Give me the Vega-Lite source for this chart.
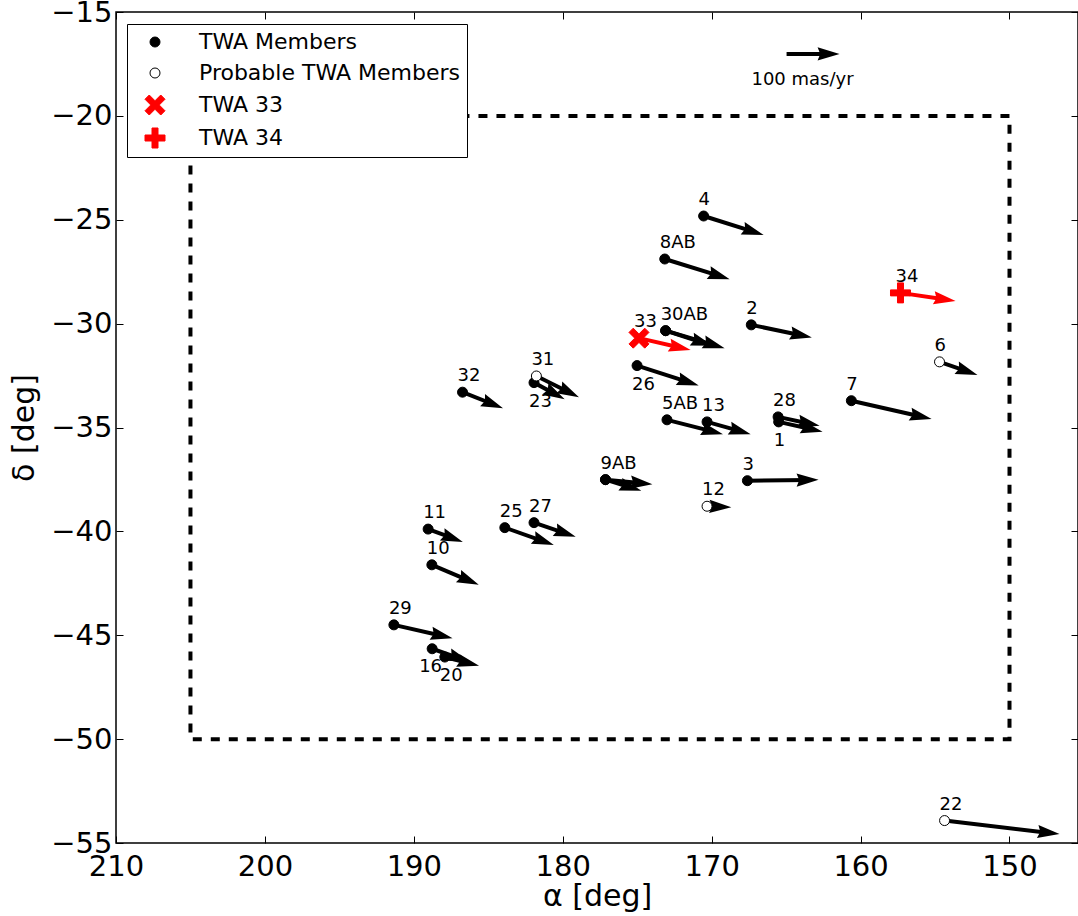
{
  "$schema": "https://vega.github.io/schema/vega-lite/v6.json",
  "width": 962,
  "height": 831,
  "autosize": {"type": "none"},
  "padding": {"left": 116, "top": 12, "right": 0, "bottom": 73},
  "background": "white",
  "config": {
    "view": {"stroke": "black", "strokeWidth": 1.5},
    "font": "DejaVu Sans"
  },
  "datasets": {
    "stars": [
      {"id": "4", "type": "TWA Members", "ra": 170.54, "dec": -24.82, "ra2": 166.51, "dec2": -25.73, "pos": "above"},
      {"id": "8AB", "type": "TWA Members", "ra": 173.15, "dec": -26.89, "ra2": 168.79, "dec2": -27.86, "pos": "above"},
      {"id": "30AB", "type": "TWA Members", "ra": 173.09, "dec": -30.34, "ra2": 169.13, "dec2": -31.18, "pos": "above"},
      {"id": "", "type": "TWA Members", "ra": 173.09, "dec": -30.34, "ra2": 169.93, "dec2": -31.07, "pos": "none"},
      {"id": "2", "type": "TWA Members", "ra": 167.34, "dec": -30.06, "ra2": 163.27, "dec2": -30.67, "pos": "above"},
      {"id": "33", "type": "TWA 33", "ra": 174.88, "dec": -30.70, "ra2": 171.41, "dec2": -31.27, "pos": "above"},
      {"id": "26", "type": "TWA Members", "ra": 175.01, "dec": -32.02, "ra2": 170.87, "dec2": -32.98, "pos": "below"},
      {"id": "7", "type": "TWA Members", "ra": 160.62, "dec": -33.71, "ra2": 155.23, "dec2": -34.59, "pos": "above"},
      {"id": "5AB", "type": "TWA Members", "ra": 173.0, "dec": -34.63, "ra2": 169.24, "dec2": -35.32, "pos": "above"},
      {"id": "13", "type": "TWA Members", "ra": 170.31, "dec": -34.73, "ra2": 167.38, "dec2": -35.32, "pos": "above"},
      {"id": "28", "type": "TWA Members", "ra": 165.54, "dec": -34.49, "ra2": 162.75, "dec2": -34.92, "pos": "above"},
      {"id": "1", "type": "TWA Members", "ra": 165.50, "dec": -34.73, "ra2": 162.55, "dec2": -35.20, "pos": "below"},
      {"id": "3", "type": "TWA Members", "ra": 167.60, "dec": -37.56, "ra2": 162.82, "dec2": -37.52, "pos": "above"},
      {"id": "9AB", "type": "TWA Members", "ra": 177.13, "dec": -37.51, "ra2": 173.98, "dec2": -37.73, "pos": "above"},
      {"id": "", "type": "TWA Members", "ra": 177.13, "dec": -37.51, "ra2": 174.72, "dec2": -38.04, "pos": "none"},
      {"id": "32", "type": "TWA Members", "ra": 186.73, "dec": -33.30, "ra2": 184.01, "dec2": -34.07, "pos": "above"},
      {"id": "23", "type": "TWA Members", "ra": 181.93, "dec": -32.84, "ra2": 179.87, "dec2": -33.64, "pos": "below"},
      {"id": "11", "type": "TWA Members", "ra": 189.04, "dec": -39.89, "ra2": 186.71, "dec2": -40.51, "pos": "above"},
      {"id": "25", "type": "TWA Members", "ra": 183.89, "dec": -39.82, "ra2": 180.60, "dec2": -40.65, "pos": "above"},
      {"id": "27", "type": "TWA Members", "ra": 181.93, "dec": -39.58, "ra2": 179.13, "dec2": -40.26, "pos": "above"},
      {"id": "10", "type": "TWA Members", "ra": 188.79, "dec": -41.61, "ra2": 185.64, "dec2": -42.57, "pos": "above"},
      {"id": "29", "type": "TWA Members", "ra": 191.34, "dec": -44.50, "ra2": 187.40, "dec2": -45.14, "pos": "above"},
      {"id": "16", "type": "TWA Members", "ra": 188.77, "dec": -45.65, "ra2": 186.24, "dec2": -46.28, "pos": "belowleft"},
      {"id": "20", "type": "TWA Members", "ra": 187.92, "dec": -46.05, "ra2": 185.62, "dec2": -46.47, "pos": "below"},
      {"id": "31", "type": "Probable TWA Members", "ra": 181.77, "dec": -32.52, "ra2": 178.91, "dec2": -33.54, "pos": "above"},
      {"id": "12", "type": "Probable TWA Members", "ra": 170.31, "dec": -38.79, "ra2": 168.68, "dec2": -38.84, "pos": "above"},
      {"id": "6", "type": "Probable TWA Members", "ra": 154.70, "dec": -31.84, "ra2": 152.15, "dec2": -32.47, "pos": "above"},
      {"id": "22", "type": "Probable TWA Members", "ra": 154.36, "dec": -53.92, "ra2": 146.64, "dec2": -54.57, "pos": "above"},
      {"id": "34", "type": "TWA 34", "ra": 157.32, "dec": -28.52, "ra2": 153.62, "dec2": -28.91, "pos": "above"},
      {"id": "", "type": "scale", "ra": 164.97, "dec": -17.02, "ra2": 161.41, "dec2": -17.02, "pos": "none"}
    ],
    "box": [{"ra": 205, "dec": -20, "ra2": 150, "dec2": -50}],
    "note": [{"ra": 163.9, "dec": -18.27, "text": "100 mas/yr"}]
  },
  "resolve": {"axis": {"x": "independent", "y": "independent"}},
  "layer": [
    {
      "data": {"name": "box"},
      "mark": {"type": "rect", "fillOpacity": 0, "stroke": "black", "strokeWidth": 4, "strokeDash": [9, 9]},
      "encoding": {
        "x": {
          "field": "ra", "type": "quantitative",
          "scale": {"domain": [145.4, 210], "reverse": true, "nice": false, "zero": false},
          "axis": {
            "orient": "bottom", "values": [210, 200, 190, 180, 170, 160, 150], "format": "d",
            "domain": false, "grid": false, "tickSize": -7, "tickColor": "black", "tickWidth": 1,
            "labelFont": "DejaVu Sans", "labelFontSize": 29, "labelColor": "black", "labelPadding": 16,
            "labelFlush": false, "labelOverlap": false,
            "title": "α [deg]", "titleFont": "DejaVu Sans", "titleFontSize": 30, "titleFontWeight": "normal",
            "titleColor": "black", "titlePadding": 0
          }
        },
        "x2": {"field": "ra2"},
        "y": {
          "field": "dec", "type": "quantitative",
          "scale": {"domain": [-55, -15], "nice": false, "zero": false},
          "axis": {
            "orient": "left", "values": [-55, -50, -45, -40, -35, -30, -25, -20, -15], "format": "d",
            "domain": false, "grid": false, "tickSize": -7, "tickColor": "black", "tickWidth": 1,
            "labelFont": "DejaVu Sans", "labelFontSize": 29, "labelColor": "black", "labelPadding": 11,
            "labelFlush": false, "labelOverlap": false,
            "title": "δ [deg]", "titleFont": "DejaVu Sans", "titleFontSize": 30, "titleFontWeight": "normal",
            "titleColor": "black", "titlePadding": 11
          }
        },
        "y2": {"field": "dec2"}
      }
    },
    {
      "data": {"name": "box"},
      "mark": {"type": "point", "opacity": 0},
      "encoding": {
        "x": {
          "field": "ra", "type": "quantitative",
          "axis": {
            "orient": "top", "values": [210, 200, 190, 180, 170, 160, 150], "labels": false, "title": null,
            "domain": false, "grid": false, "tickSize": -7, "tickColor": "black", "tickWidth": 1
          }
        },
        "y": {
          "field": "dec", "type": "quantitative",
          "axis": {
            "orient": "right", "values": [-55, -50, -45, -40, -35, -30, -25, -20, -15], "labels": false, "title": null,
            "domain": false, "grid": false, "tickSize": -7, "tickColor": "black", "tickWidth": 1
          }
        }
      }
    },
    {
      "data": {"name": "stars"},
      "transform": [
        {"calculate": "sqrt(pow((datum.ra - datum.ra2) * 14.892, 2) + pow((datum.dec - datum.dec2) * 20.775, 2))", "as": "len"},
        {"calculate": "datum.ra2 - (datum.ra2 - datum.ra) * 10 / datum.len", "as": "rae"},
        {"calculate": "datum.dec2 - (datum.dec2 - datum.dec) * 10 / datum.len", "as": "dece"}
      ],
      "mark": {"type": "rule", "strokeWidth": 4, "strokeCap": "butt"},
      "encoding": {
        "x": {"field": "ra", "type": "quantitative", "axis": null},
        "y": {"field": "dec", "type": "quantitative", "axis": null},
        "x2": {"field": "rae"},
        "y2": {"field": "dece"},
        "color": {"condition": {"test": "datum.type == 'TWA 33' || datum.type == 'TWA 34'", "value": "red"}, "value": "black"}
      }
    },
    {
      "data": {"name": "stars"},
      "transform": [
        {"calculate": "atan2((datum.dec - datum.dec2) * 20.775, (datum.ra - datum.ra2) * 14.892) * 180 / PI", "as": "ang"}
      ],
      "mark": {"type": "point", "filled": true, "size": 1936, "shape": "M0,0 L-1,-0.3 L-0.88,0 L-1,0.3 Z", "opacity": 1, "strokeWidth": 0},
      "encoding": {
        "x": {"field": "ra2", "type": "quantitative", "axis": null},
        "y": {"field": "dec2", "type": "quantitative", "axis": null},
        "angle": {"field": "ang", "type": "quantitative", "scale": null},
        "color": {"condition": {"test": "datum.type == 'TWA 33' || datum.type == 'TWA 34'", "value": "red"}, "value": "black"}
      }
    },
    {
      "data": {"name": "stars"},
      "transform": [{"filter": "datum.type != 'scale'"}],
      "mark": {"type": "point", "filled": true, "size": 100, "strokeWidth": 1, "opacity": 1},
      "encoding": {
        "x": {"field": "ra", "type": "quantitative", "axis": null},
        "y": {"field": "dec", "type": "quantitative", "axis": null},
        "shape": {
          "field": "type", "type": "nominal",
          "scale": {
            "domain": ["TWA Members", "Probable TWA Members", "TWA 33", "TWA 34"],
            "range": ["circle", "circle",
              "M-2,-1.15 L-1.15,-2 L0,-0.85 L1.15,-2 L2,-1.15 L0.85,0 L2,1.15 L1.15,2 L0,0.85 L-1.15,2 L-2,1.15 L-0.85,0 Z",
              "M-0.6,-2 L0.6,-2 L0.6,-0.6 L2,-0.6 L2,0.6 L0.6,0.6 L0.6,2 L-0.6,2 L-0.6,0.6 L-2,0.6 L-2,-0.6 L-0.6,-0.6 Z"]
          },
          "legend": {
            "title": null, "orient": "none", "legendX": 11, "legendY": 12,
            "strokeColor": "black", "fillColor": "white", "cornerRadius": 0, "padding": 7,
            "labelFont": "DejaVu Sans", "labelFontSize": 22, "labelColor": "black", "labelLimit": 400,
            "symbolSize": 100, "symbolStrokeWidth": 1, "symbolOffset": 10, "labelOffset": 33, "rowPadding": 9
          }
        },
        "fill": {
          "field": "type", "type": "nominal",
          "scale": {"domain": ["TWA Members", "Probable TWA Members", "TWA 33", "TWA 34"], "range": ["black", "white", "red", "red"]},
          "legend": {
            "title": null, "orient": "none", "legendX": 11, "legendY": 12,
            "strokeColor": "black", "fillColor": "white", "cornerRadius": 0, "padding": 7,
            "labelFont": "DejaVu Sans", "labelFontSize": 22, "labelColor": "black", "labelLimit": 400,
            "symbolSize": 100, "symbolStrokeWidth": 1, "symbolOffset": 10, "labelOffset": 33, "rowPadding": 9
          }
        },
        "stroke": {
          "field": "type", "type": "nominal",
          "scale": {"domain": ["TWA Members", "Probable TWA Members", "TWA 33", "TWA 34"], "range": ["black", "black", "red", "red"]},
          "legend": {
            "title": null, "orient": "none", "legendX": 11, "legendY": 12,
            "strokeColor": "black", "fillColor": "white", "cornerRadius": 0, "padding": 7,
            "labelFont": "DejaVu Sans", "labelFontSize": 22, "labelColor": "black", "labelLimit": 400,
            "symbolSize": 100, "symbolStrokeWidth": 1, "symbolOffset": 10, "labelOffset": 33, "rowPadding": 9
          }
        }
      }
    },
    {
      "data": {"name": "stars"},
      "transform": [{"filter": "datum.pos == 'above'"}],
      "mark": {"type": "text", "align": "left", "baseline": "middle", "dx": -5, "dy": -16, "fontSize": 18, "font": "DejaVu Sans", "color": "black"},
      "encoding": {
        "x": {"field": "ra", "type": "quantitative", "axis": null},
        "y": {"field": "dec", "type": "quantitative", "axis": null},
        "text": {"field": "id"}
      }
    },
    {
      "data": {"name": "stars"},
      "transform": [{"filter": "datum.pos == 'below'"}],
      "mark": {"type": "text", "align": "left", "baseline": "middle", "dx": -5, "dy": 19, "fontSize": 18, "font": "DejaVu Sans", "color": "black"},
      "encoding": {
        "x": {"field": "ra", "type": "quantitative", "axis": null},
        "y": {"field": "dec", "type": "quantitative", "axis": null},
        "text": {"field": "id"}
      }
    },
    {
      "data": {"name": "stars"},
      "transform": [{"filter": "datum.pos == 'belowleft'"}],
      "mark": {"type": "text", "align": "left", "baseline": "middle", "dx": -13, "dy": 18, "fontSize": 18, "font": "DejaVu Sans", "color": "black"},
      "encoding": {
        "x": {"field": "ra", "type": "quantitative", "axis": null},
        "y": {"field": "dec", "type": "quantitative", "axis": null},
        "text": {"field": "id"}
      }
    },
    {
      "data": {"name": "note"},
      "mark": {"type": "text", "align": "center", "baseline": "middle", "fontSize": 18, "font": "DejaVu Sans", "color": "black"},
      "encoding": {
        "x": {"field": "ra", "type": "quantitative", "axis": null},
        "y": {"field": "dec", "type": "quantitative", "axis": null},
        "text": {"field": "text"}
      }
    }
  ]
}
